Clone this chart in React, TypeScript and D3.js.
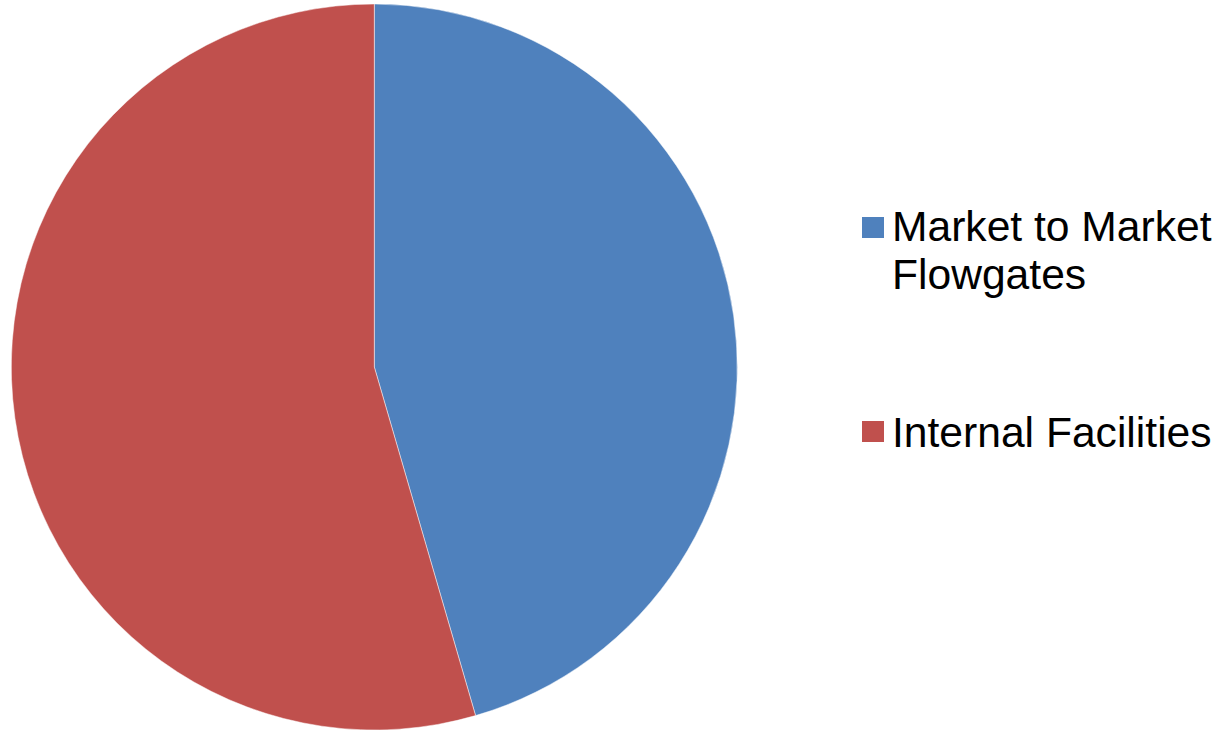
import React from "react";
import * as d3 from "d3";

const categories = ["Market to Market Flowgates", "Internal Facilities"];
const legendLines = [["Market to Market", "Flowgates"], ["Internal Facilities"]];
const values = [45.5, 54.5];
const colors = ["#4F81BD", "#C0504D"];

export default function App() {
  const width = 1221;
  const height = 730;
  const cx = 374.3;
  const cy = 367;
  const r = 363;

  const pie = d3.pie<number>().sort(null).value((d) => d);
  const arcs = pie(values);
  const arcGen = d3.arc<d3.PieArcDatum<number>>().innerRadius(0).outerRadius(r);

  const legendY = [217, 421];
  const baselines = [[241, 288.5], [447]];

  return (
    <svg
      width={width}
      height={height}
      style={{ position: "absolute", left: 0, top: 0, background: "#fff" }}
      fontFamily="'Liberation Sans', Arial, sans-serif"
    >
      <g transform={`translate(${cx},${cy})`}>
        {arcs.map((a, i) => (
          <path key={i} d={arcGen(a) || ""} fill={colors[i]} stroke="#ffffff" strokeWidth={0.8} strokeOpacity={0.6} />
        ))}
      </g>
      {categories.map((c, i) => (
        <g key={c}>
          <rect x={862} y={legendY[i]} width={22} height={21} fill={colors[i]} />
          {legendLines[i].map((line, j) => (
            <text key={j} x={892} y={baselines[i][j]} fontSize={42.6} fill="#000">
              {line}
            </text>
          ))}
        </g>
      ))}
    </svg>
  );
}
